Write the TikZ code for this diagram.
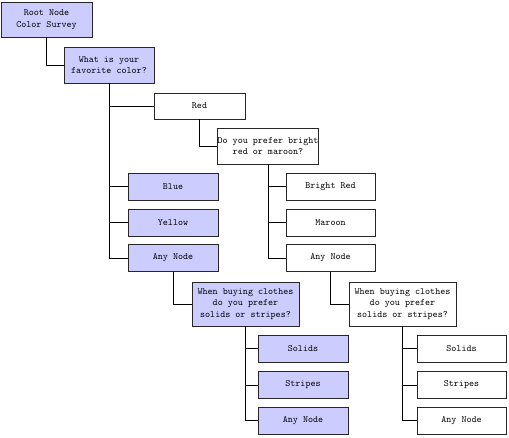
\documentclass[tikz,border=0pt]{standalone}
\usepackage{fontspec}
\begin{document}
\begin{tikzpicture}[x=1pt,y=-1pt,
  box/.style={draw=black!85, line width=0.8pt, align=center, inner sep=0pt,
    font=\ttfamily\fontsize{9.6}{11.5}\selectfont, minimum width=90pt, minimum height=27pt},
  bluebox/.style={box, fill=lavfill},
  whitebox/.style={box, fill=white},
  tall/.style={minimum height=36pt},
  taller/.style={minimum width=107pt, minimum height=44pt},
  link/.style={draw=black, line width=0.8pt}]
\definecolor{lavfill}{RGB}{204,204,255}
\useasboundingbox (0,0) rectangle (509,437);
\node[bluebox, tall, minimum width=91pt, minimum height=35pt] (root) at (46.5,19.5) {Root Node\\Color Survey};
\node[bluebox, tall] (what) at (109,65) {What is your\\ favorite color?};
\node[whitebox, minimum width=91pt, minimum height=26pt] (red) at (199.5,106) {Red};
\node[whitebox, tall, minimum width=98pt] (dyp) at (268,146) {Do you prefer bright\\red or maroon?};
\node[whitebox, minimum width=89pt] (bright) at (330.5,186.5) {Bright Red};
\node[whitebox, minimum width=89pt] (maroon) at (330.5,222.5) {Maroon};
\node[whitebox, minimum width=89pt] (anyw) at (330.5,258) {Any Node};
\node[bluebox] (blue) at (173,186.5) {Blue};
\node[bluebox] (yellow) at (173,222.5) {Yellow};
\node[bluebox] (anyb) at (173,258) {Any Node};
\node[bluebox, taller] (whenb) at (245.5,304) {When buying clothes\\do you prefer\\ solids or stripes?};
\node[whitebox, taller] (whenw) at (402.5,304) {When buying clothes\\do you prefer\\ solids or stripes?};
\node[bluebox] (solidsb) at (303,348.5) {Solids};
\node[bluebox] (stripesb) at (303,385) {Stripes};
\node[bluebox] (anyb2) at (303,420.5) {Any Node};
\node[whitebox, minimum width=89pt] (solidsw) at (461.5,348.5) {Solids};
\node[whitebox, minimum width=89pt] (stripesw) at (461.5,385) {Stripes};
\node[whitebox, minimum width=89pt] (anyw2) at (461.5,420.5) {Any Node};
\draw[link] (root.south) |- (what.west);
\draw[link] (what.south) |- (red.west);
\draw[link] (what.south) |- (blue.west);
\draw[link] (what.south) |- (yellow.west);
\draw[link] (what.south) |- (anyb.west);
\draw[link] (red.south) |- (dyp.west);
\draw[link] (dyp.south) |- (bright.west);
\draw[link] (dyp.south) |- (maroon.west);
\draw[link] (dyp.south) |- (anyw.west);
\draw[link] (anyw.south) |- (whenw.west);
\draw[link] (anyb.south) |- (whenb.west);
\draw[link] (whenb.south) |- (solidsb.west);
\draw[link] (whenb.south) |- (stripesb.west);
\draw[link] (whenb.south) |- (anyb2.west);
\draw[link] (whenw.south) |- (solidsw.west);
\draw[link] (whenw.south) |- (stripesw.west);
\draw[link] (whenw.south) |- (anyw2.west);
\end{tikzpicture}
\end{document}
